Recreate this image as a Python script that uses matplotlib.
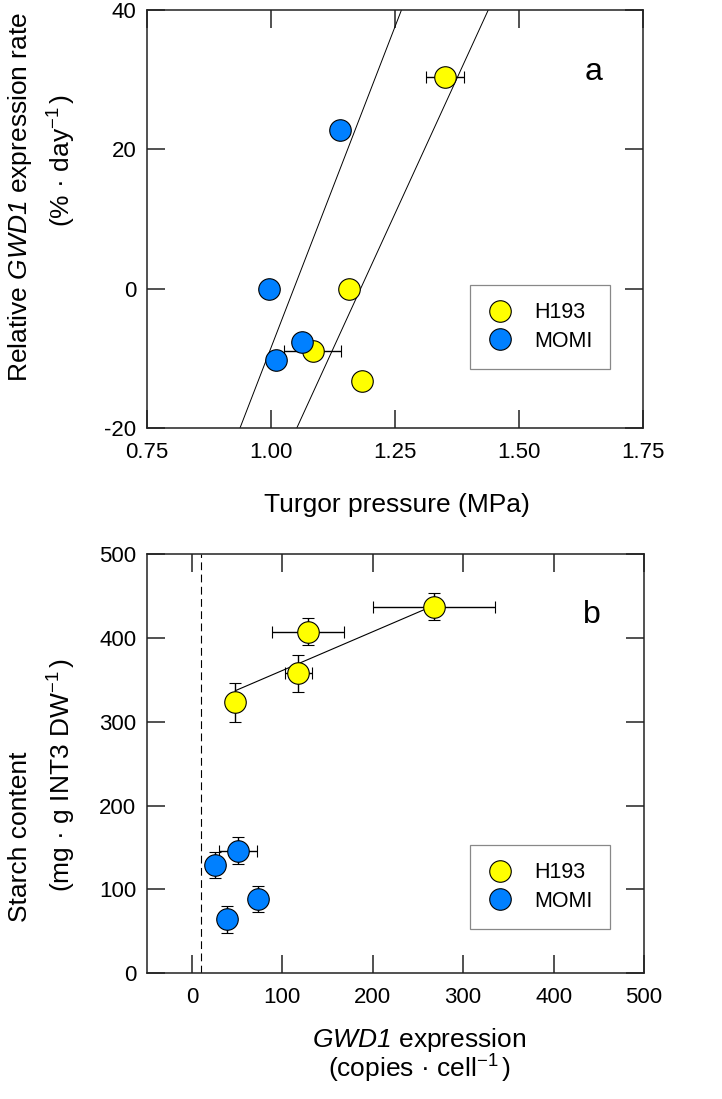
import matplotlib
matplotlib.use("Agg")
import matplotlib.pyplot as plt
from matplotlib.lines import Line2D

plt.rcParams['font.family'] = ['Liberation Sans', 'DejaVu Sans']
plt.rcParams['mathtext.fontset'] = 'custom'
plt.rcParams['mathtext.rm'] = 'Liberation Sans'
plt.rcParams['mathtext.it'] = 'Liberation Sans:italic'
# sf slot used for the italic gene name so the digit stays italic too
plt.rcParams['mathtext.sf'] = 'Liberation Sans:italic'
plt.rcParams['axes.unicode_minus'] = False

# panel a: turgor vs relative GWD1 expression rate
h193_turgor = [1.351, 1.158, 1.084, 1.183]
h193_rate = [30.4, 0.0, -9.0, -13.3]
h193_turgor_err = [0.038, 0.0, 0.058, 0.0]
momi_turgor = [1.139, 0.995, 1.062, 1.010]
momi_rate = [22.8, 0.0, -7.7, -10.3]
fit_a1_x = [0.9375, 1.263]
fit_a2_x = [1.052, 1.438]
fit_a_y = [-20, 40]

# panel b: GWD1 expression vs starch
h193_gwd = [267.7, 128.3, 117.7, 47.2]
h193_starch = [437, 407.4, 357.7, 323.2]
h193_gwd_err = [67.5, 39.5, 15, 0]
h193_starch_err = [16, 16, 22, 23]
momi_gwd = [50.9, 25.1, 73, 38.7]
momi_starch = [146.2, 129.1, 88.2, 64.4]
momi_gwd_err = [20.6, 8, 7, 5]
momi_starch_err = [16, 16, 15.5, 16]
fit_b_x = [48, 262]
fit_b_y = [337, 436]
threshold_x = 10

yellow = '#FFFF00'
blue = '#0080FF'

W, H = 722, 1099
fig = plt.figure(figsize=(W/100, H/100), dpi=100)

def px_ax(l, t, r, b):
    return fig.add_axes([l/W, 1-b/H, (r-l)/W, (b-t)/H])

def style(ax):
    for s in ax.spines.values():
        s.set_linewidth(1.1)
        s.set_color('#222222')
    ax.tick_params(direction='in', length=13, width=1.1, top=True, right=True,
                   labelsize=16, color='#222222')
    ax.tick_params(axis='x', pad=10)
    ax.tick_params(axis='y', pad=7.5)

mk = dict(fmt='o', ms=15.5, mec='black', mew=0.8, ecolor='black',
          elinewidth=1, capsize=4.5, capthick=1)

# ---- panel a
ax1 = px_ax(147, 10, 643, 428)
ax1.plot(fit_a1_x, fit_a_y, color='black', lw=0.7)
ax1.plot(fit_a2_x, fit_a_y, color='black', lw=0.7)
ax1.errorbar(h193_turgor, h193_rate, xerr=h193_turgor_err, mfc=yellow, **mk)
ax1.errorbar(momi_turgor, momi_rate, mfc=blue, **mk)
ax1.set_xlim(0.75, 1.75)
ax1.set_ylim(-20, 40)
ax1.set_xticks([0.75, 1.0, 1.25, 1.5, 1.75])
ax1.set_xticklabels(['0.75', '1.00', '1.25', '1.50', '1.75'])
ax1.set_yticks([-20, 0, 20, 40])
style(ax1)
ax1.text((594-147)/496, 1-(72-10)/418, 'a', fontsize=23, ha='center', va='center',
         transform=ax1.transAxes)

handles = [Line2D([], [], marker='o', ls='none', ms=15.5, mfc=yellow, mec='black', mew=0.8),
           Line2D([], [], marker='o', ls='none', ms=15.5, mfc=blue, mec='black', mew=0.8)]
labels = ['H193', 'MOMI']

def add_legend(ax, l, t):
    pos = ax.get_position()
    x0, x1 = pos.x0*W, pos.x1*W
    y0, y1 = (1-pos.y1)*H, (1-pos.y0)*H
    leg = ax.legend(handles, labels, loc='upper left',
                    bbox_to_anchor=((l-x0)/(x1-x0), 1-(t-y0)/(y1-y0)),
                    fontsize=15.5, frameon=True, fancybox=False,
                    edgecolor='#888888', framealpha=1, borderpad=0.8,
                    labelspacing=0.35, handlelength=1.2, handletextpad=1.0,
                    borderaxespad=0)
    leg.get_frame().set_linewidth(0.9)

add_legend(ax1, 470, 285)

fig.text(20/W, 1-197/H, r'Relative $\mathsf{GWD1}$ expression rate', rotation=90,
         fontsize=19, ha='center', va='center')
fig.text(62/W, 1-160/H, r'(% · day$^{-1}\,$)', rotation=90,
         fontsize=19, ha='center', va='center')
fig.text(396.5/W, 1-512/H, 'Turgor pressure (MPa)', fontsize=19,
         ha='center', va='baseline')

# ---- panel b
ax2 = px_ax(146.7, 554, 644, 973.3)
ax2.axvline(threshold_x, color='black', lw=0.8, ls=(0, (7, 4)))
ax2.plot(fit_b_x, fit_b_y, color='black', lw=0.8)
ax2.errorbar(h193_gwd, h193_starch, xerr=h193_gwd_err, yerr=h193_starch_err,
             mfc=yellow, **mk)
ax2.errorbar(momi_gwd, momi_starch, xerr=momi_gwd_err, yerr=momi_starch_err,
             mfc=blue, **mk)
ax2.set_xlim(-50, 500)
ax2.set_ylim(0, 500)
ax2.set_xticks([0, 100, 200, 300, 400, 500])
ax2.set_yticks([0, 100, 200, 300, 400, 500])
style(ax2)
ax2.text((591.7-146.7)/497.3, 1-(615-554)/419.3, 'b', fontsize=23, ha='center',
         va='center', transform=ax2.transAxes)
add_legend(ax2, 470, 845)

fig.text(20/W, 1-837/H, 'Starch content', rotation=90,
         fontsize=19, ha='center', va='center')
fig.text(62/W, 1-775/H, r'(mg · g INT3 DW$^{-1}\,$)', rotation=90,
         fontsize=19, ha='center', va='center')
fig.text(419/W, 1-1078/H, '$\\mathsf{GWD1}$ expression\n(copies · cell$^{-1}\\,$)',
         fontsize=19, ha='center', va='baseline', linespacing=0.95)

fig.savefig('out.png', dpi=100)
